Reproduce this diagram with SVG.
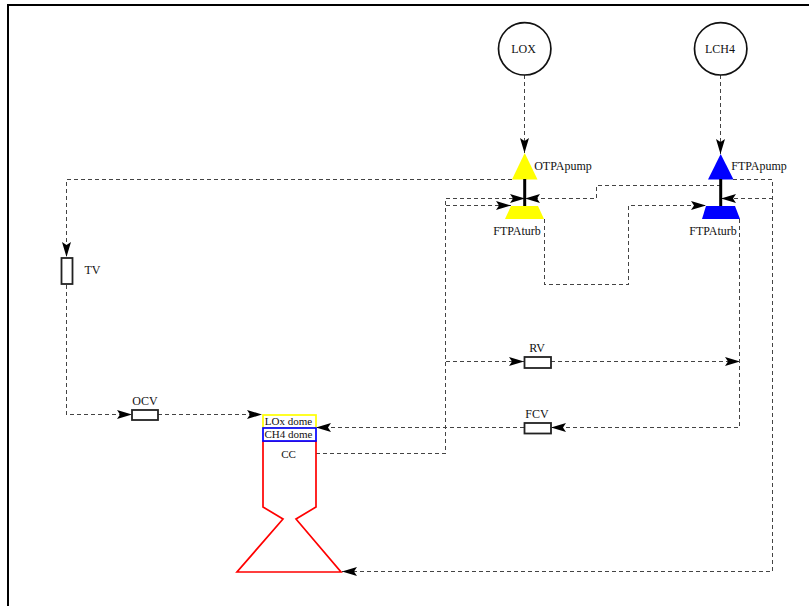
<svg xmlns="http://www.w3.org/2000/svg" width="809" height="606" viewBox="0 0 809 606">
<style>
text{font-family:"Liberation Serif","Times New Roman",serif;font-size:12px;fill:#111;text-anchor:middle}
text.d{font-size:11px}
.c{fill:none;stroke:#444;stroke-width:1;stroke-dasharray:4 3;shape-rendering:crispEdges}
.v{fill:#fff;stroke:#222;stroke-width:1.8}
.s{stroke:#000;stroke-width:3;fill:none}
</style>
<defs>
<marker id="a" viewBox="0 0 15 9" refX="15" refY="4.500" markerWidth="15" markerHeight="9" markerUnits="userSpaceOnUse" orient="auto"><path d="M0 0L15 4.500L0 9L3 4.500Z" fill="#000"/></marker>
</defs>
<rect width="809" height="606" fill="#fff"/>
<path id="frame" d="M8 606V5H809" fill="none" stroke="#000" stroke-width="2"/>
<g id="connectors">
<path class="c" d="M524.500 75V153" marker-end="url(#a)"/>
<path class="c" d="M720.500 75V154" marker-end="url(#a)"/>
<path class="c" d="M512 179.500H66.500V257" marker-end="url(#a)"/>
<path class="c" d="M66.500 285V414.500H132" marker-end="url(#a)"/>
<path class="c" d="M158 414.500H262" marker-end="url(#a)"/>
<path class="c" d="M721 185.500H596.500V198.500H525" marker-end="url(#a)"/>
<path class="c" d="M316 453.500H445.500V198.500H525" marker-end="url(#a)"/>
<path class="c" d="M446 205.500H511" marker-end="url(#a)"/>
<path class="c" d="M446 361.500H524" marker-end="url(#a)"/>
<path class="c" d="M551 361.500H740" marker-end="url(#a)"/>
<path class="c" d="M739.500 219V427.500H551" marker-end="url(#a)"/>
<path class="c" d="M524 427.500H316" marker-end="url(#a)"/>
<path class="c" d="M733 179.500H772.500V571.500H342" marker-end="url(#a)"/>
<path class="c" d="M773 198.500H721" marker-end="url(#a)"/>
<path class="c" d="M544.500 219V284.500H628.500V205.500H706" marker-end="url(#a)"/>
</g>
<g id="LOX"><circle cx="524.700" cy="48.800" r="26.200" fill="#fff" stroke="#111" stroke-width="1.700"/><text x="523.500" y="52.500">LOX</text></g>
<g id="LCH4"><circle cx="720.700" cy="48.800" r="26.200" fill="#fff" stroke="#111" stroke-width="1.700"/><text x="720" y="52.500">LCH4</text></g>
<g id="OTPApump"><path d="M524.700 153L537.500 179.500H512Z" fill="#ff0"/><path class="s" d="M524.700 179V206"/><text x="563" y="170">OTPApump</text></g>
<g id="OTPAturb"><path d="M511 206H538L544 219H505Z" fill="#ff0"/><text x="517" y="235">FTPAturb</text></g>
<g id="FTPApump"><path d="M720.700 154L733.500 179.500H708Z" fill="#00f"/><path class="s" d="M720.700 179V206"/><text x="759" y="170">FTPApump</text></g>
<g id="FTPAturb"><path d="M706 206H735L740 219H702Z" fill="#00f"/><text x="713" y="235">FTPAturb</text></g>
<g id="TV"><rect class="v" x="61.500" y="258" width="11" height="26"/><text x="92.500" y="274">TV</text></g>
<g id="OCV"><rect class="v" x="132" y="410" width="26" height="10"/><text x="145" y="405">OCV</text></g>
<g id="RV"><rect class="v" x="524.500" y="357" width="26.500" height="11"/><text x="537" y="352">RV</text></g>
<g id="FCV"><rect class="v" x="524.500" y="423" width="26.500" height="10.500"/><text x="537" y="418">FCV</text></g>
<g id="LOxdome"><rect x="263" y="415" width="53" height="13" fill="#fff" stroke="#ff0" stroke-width="1.700"/><text class="d" x="288.500" y="425">LOx dome</text></g>
<g id="CC"><path d="M263 441H316V507L296 519L341 572H237L283 519L263 507Z" fill="#fff" stroke="#f00" stroke-width="1.700"/><text class="d" x="288.500" y="458">CC</text></g>
<g id="CH4dome"><rect x="263" y="428" width="53" height="13" fill="#fff" stroke="#00f" stroke-width="1.700"/><text class="d" x="288.500" y="438">CH4 dome</text></g>
</svg>
